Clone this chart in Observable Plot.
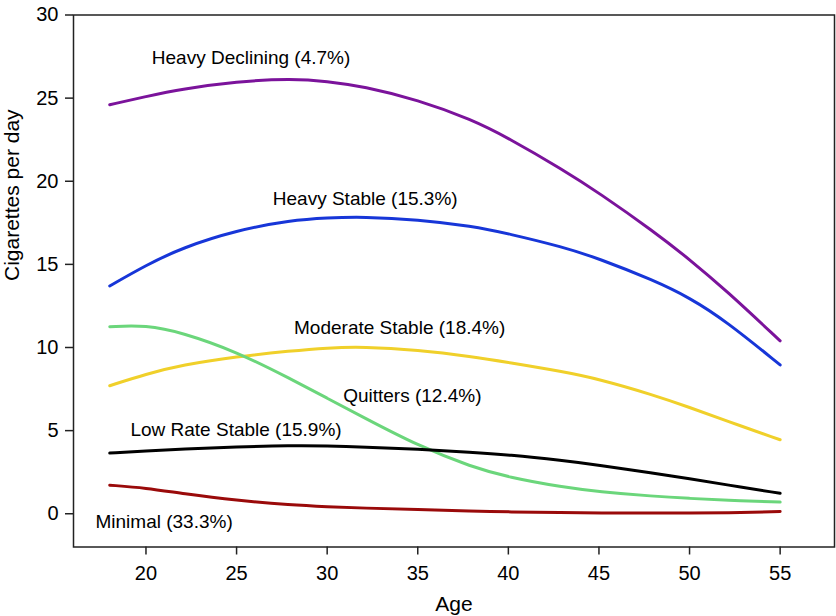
<!DOCTYPE html>
<html>
<head>
<meta charset="utf-8">
<script src="https://cdn.jsdelivr.net/npm/d3@7"></script>
<script src="https://cdn.jsdelivr.net/npm/@observablehq/plot@0.6"></script>
<style>
  html, body { margin: 0; padding: 0; background: #fff; }
  #chart svg { display: block; }
</style>
</head>
<body>
<div id="chart"></div>
<script>
const ages = [18, 20, 22, 25, 28, 30, 32, 35, 38, 40, 43, 45, 48, 50, 52, 55];

// Cigarettes per day by trajectory group
const heavyDeclining = [24.6, 25.1, 25.55, 26.0, 26.17, 26.02, 25.7, 24.9, 23.7, 22.6, 20.7, 19.3, 17.0, 15.3, 13.45, 10.4];
const heavyStable    = [13.7, 14.95, 16.0, 17.05, 17.65, 17.8, 17.86, 17.7, 17.3, 16.85, 16.05, 15.35, 14.05, 13.0, 11.6, 8.95];
const moderateStable = [7.7, 8.4, 8.95, 9.45, 9.8, 9.98, 10.05, 9.85, 9.45, 9.1, 8.55, 8.1, 7.15, 6.4, 5.6, 4.45];
const quitters       = [11.25, 11.35, 10.9, 9.75, 8.1, 6.95, 5.8, 4.1, 2.8, 2.2, 1.6, 1.33, 1.05, 0.92, 0.82, 0.7];
const lowRateStable  = [3.65, 3.78, 3.9, 4.02, 4.1, 4.08, 4.02, 3.88, 3.7, 3.55, 3.2, 2.92, 2.45, 2.1, 1.75, 1.23];
const minimal        = [1.72, 1.55, 1.22, 0.8, 0.52, 0.42, 0.34, 0.25, 0.16, 0.11, 0.07, 0.05, 0.04, 0.04, 0.05, 0.13];

const groupNames = ["Heavy Declining", "Heavy Stable", "Moderate Stable", "Quitters", "Low Rate Stable", "Minimal"];
const groupValues = [heavyDeclining, heavyStable, moderateStable, quitters, lowRateStable, minimal];
const groupColors = ["#7B139B", "#1736D8", "#F0D02A", "#6BD67B", "#000000", "#9A0A0A"];

// Direct labels
const labelTexts = ["Heavy Declining (4.7%)", "Heavy Stable (15.3%)", "Moderate Stable (18.4%)", "Quitters (12.4%)", "Low Rate Stable (15.9%)", "Minimal (33.3%)"];
const labelAges  = [25.8, 32.1, 34.0, 34.7, 24.97, 21.0];
const labelValues = [27.44, 18.92, 11.18, 7.11, 5.05, -0.49];

const xTicks = [20, 25, 30, 35, 40, 45, 50, 55];
const yTicks = [0, 5, 10, 15, 20, 25, 30];

const rows = [];
groupNames.forEach((g, i) => {
  ages.forEach((a, j) => rows.push({group: g, age: a, value: groupValues[i][j]}));
});
const labels = labelTexts.map((t, i) => ({text: t, age: labelAges[i], value: labelValues[i]}));

const chart = Plot.plot({
  width: 836,
  height: 616,
  marginLeft: 73,
  marginRight: 2,
  marginTop: 14.5,
  marginBottom: 69.5,
  style: {fontFamily: "'Liberation Sans', Arial, Helvetica, sans-serif", fontSize: "19px", background: "#fff", color: "#000"},
  x: {domain: [16, 58]},
  y: {domain: [-2, 30]},
  color: {domain: groupNames, range: groupColors},
  marks: [
    Plot.axisX({ticks: xTicks, tickSize: 8, tickPadding: 11, fontSize: 20, label: null, stroke: "#222", strokeWidth: 1.5, fill: "#000"}),
    Plot.axisY({ticks: yTicks, tickSize: 8, tickPadding: 7, fontSize: 20, label: null, stroke: "#222", strokeWidth: 1.5, fill: "#000"}),
    Plot.line(rows, {x: "age", y: "value", z: "group", stroke: "group", strokeWidth: 3, curve: "basis"}),
    Plot.text(labels, {x: "age", y: "value", text: "text", fontSize: 19, textAnchor: "middle", lineAnchor: "middle", fill: "#000"}),
    Plot.text(["Age"], {frameAnchor: "bottom", dy: 57.5, fontSize: 21, lineAnchor: "middle", fill: "#000"}),
    Plot.text(["Cigarettes per day"], {frameAnchor: "left", dx: -61, rotate: -90, fontSize: 21, lineAnchor: "middle", fill: "#000"}),
    Plot.frame({stroke: "#222", strokeWidth: 1.5})
  ]
});
document.getElementById("chart").appendChild(chart);
</script>
</body>
</html>
